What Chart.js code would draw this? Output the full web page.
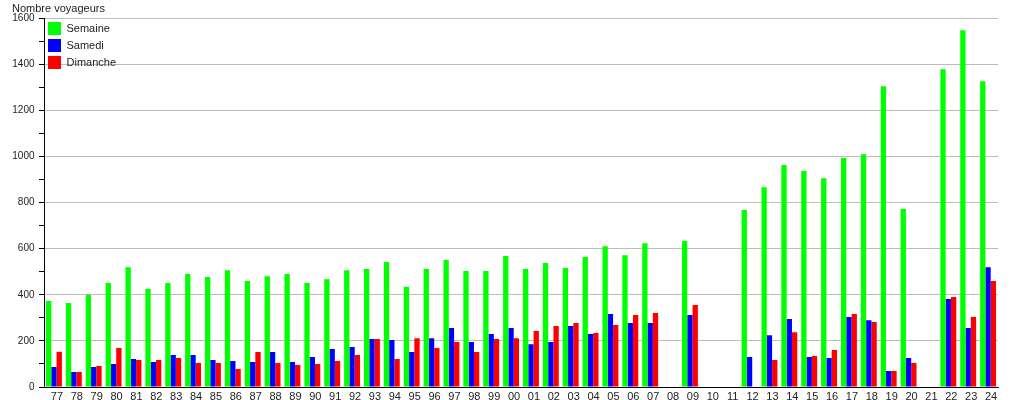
<!DOCTYPE html>
<html>
<head>
<meta charset="utf-8">
<script src="https://cdn.jsdelivr.net/npm/chart.js"></script>
<style>
  html, body { margin: 0; padding: 0; background: #fff; }
  #wrap { width: 1015px; height: 400px; }
</style>
</head>
<body>
<div id="wrap"><canvas id="c"></canvas></div>
<script>
"use strict";

const annees = ['77','78','79','80','81','82','83','84','85','86','87','88','89','90','91','92','93','94','95','96',
  '97','98','99','00','01','02','03','04','05','06','07','08','09','10','11','12','13','14','15','16',
  '17','18','19','20','21','22','23','24'];

const semaine = [373, 364, 399, 451, 520, 425, 451, 490, 477, 507, 460, 481, 490, 451, 468, 507, 512, 542, 435, 512,
  551, 503, 503, 568, 512, 538, 516, 564, 611, 572, 624, null, 633, null, null, 768, 867, 963, 937, 906,
  993, 1010, 1305, 772, null, 1379, 1548, 1327];

const samedi = [87, 65, 87, 100, 121, 108, 139, 139, 117, 113, 108, 152, 108, 130, 165, 174, 208, 204, 152, 212,
  256, 195, 230, 256, 186, 195, 265, 230, 317, 278, 278, null, 312, null, null, 130, 225, 295, 130, 126,
  304, 290, 69, 126, null, 382, 256, 520];

const dimanche = [153, 65, 91, 169, 117, 117, 126, 104, 104, 78, 152, 104, 95, 100, 113, 139, 208, 121, 212, 169,
  195, 152, 208, 212, 243, 265, 278, 234, 269, 312, 321, null, 356, null, null, null, 117, 238, 134, 160,
  317, 282, 69, 104, null, 390, 304, 460];

const FONT = { family: "'Liberation Sans', Arial, sans-serif", size: 11, weight: 'normal' };
const FONT_Y = { family: "'Liberation Sans', Arial, sans-serif", size: 10, weight: 'normal' };

new Chart(document.getElementById('c'), {
  type: 'bar',
  data: {
    labels: annees,
    datasets: [
      { label: 'Semaine', data: semaine, backgroundColor: '#00ff00' },
      { label: 'Samedi', data: samedi, backgroundColor: '#0000ff' },
      { label: 'Dimanche', data: dimanche, backgroundColor: '#ff0000' }
    ]
  },
  options: {
    responsive: true,
    maintainAspectRatio: false,
    animation: false,
    layout: { padding: { left: 12, right: 17, top: 0, bottom: 0 } },
    datasets: {
      bar: { categoryPercentage: 0.8, barPercentage: 1.0, borderWidth: 0 }
    },
    plugins: {
      tooltip: { enabled: false },
      title: {
        display: true,
        text: 'Nombre voyageurs',
        align: 'start',
        color: '#222',
        font: FONT,
        padding: { top: 2, bottom: 3 }
      },
      legend: {
        position: 'chartArea',
        align: 'start',
        // titre vide : sert juste à descendre la légende sous le haut du graphe
        title: { display: true, text: ' ', padding: 0, font: { size: 15, lineHeight: 1.2 } },
        labels: {
          boxWidth: 13,
          boxHeight: 13,
          padding: 4,
          color: '#222',
          font: FONT
        }
      }
    },
    scales: {
      x: {
        grid: { display: false, drawTicks: false },
        border: { display: true, color: '#000', width: 1 },
        ticks: { color: '#222', font: FONT, padding: 3, labelOffset: 3, autoSkip: false, maxRotation: 0 },
        afterFit: (scale) => { scale.height = 13; }
      },
      y: {
        min: 0,
        max: 1600,
        border: { display: true, color: '#000', width: 1 },
        grid: {
          color: (ctx) => (ctx.tick && ctx.tick.value % 200 === 0) ? '#bdbdbd' : 'rgba(0,0,0,0)',
          tickColor: '#000',
          tickLength: 5
        },
        ticks: {
          stepSize: 100,
          autoSkip: false,
          padding: 4.5,
          color: '#222',
          font: FONT_Y,
          callback: (v) => (v % 200 === 0 ? v : '')
        },
        afterFit: (scale) => { scale.width = 32; }
      }
    }
  }
});
</script>
</body>
</html>
